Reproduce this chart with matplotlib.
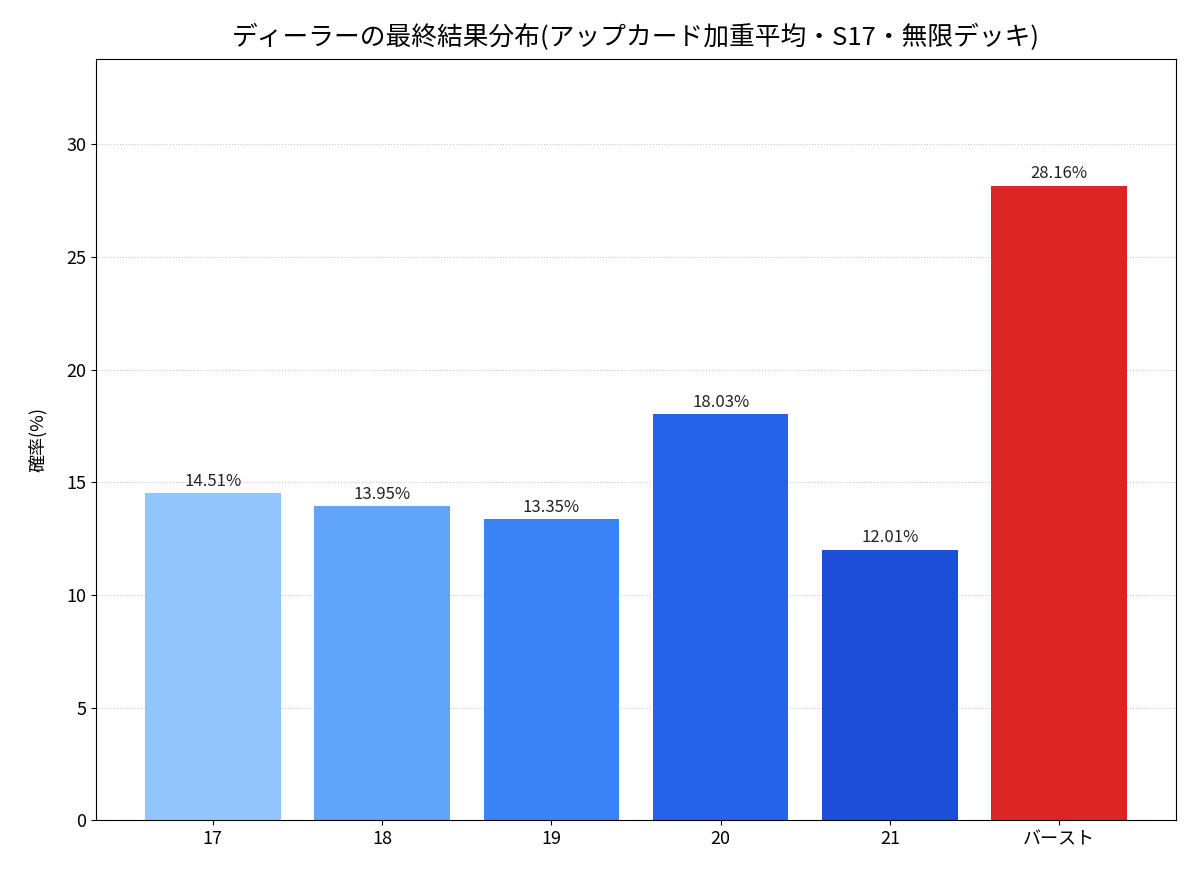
import matplotlib
matplotlib.use("Agg")
import matplotlib.pyplot as plt

plt.rcParams['font.family'] = ['Noto Sans CJK JP', 'DejaVu Sans']

# dealer final outcome distribution
categories = ['17', '18', '19', '20', '21', 'バースト']
probs = [14.51, 13.95, 13.35, 18.03, 12.01, 28.16]
colors = ['#93c5fd', '#60a5fa', '#3b82f6', '#2563eb', '#1d4ed8', '#dc2626']

fig, ax = plt.subplots(figsize=(12, 8.8), dpi=100)
bars = ax.bar(categories, probs, color=colors, width=0.8, zorder=2)

for b, v in zip(bars, probs):
    ax.text(b.get_x() + b.get_width() / 2, v + 0.15, f"{v:.2f}%",
            ha='center', va='bottom', fontsize=12, color='#222222')

ax.set_ylim(0, max(probs) * 1.2)
ax.set_ylabel("確率(%)", fontsize=13, labelpad=14)
ax.set_title("ディーラーの最終結果分布(アップカード加重平均・S17・無限デッキ)", fontsize=18.5, pad=10)
ax.tick_params(labelsize=13)
ax.grid(axis='y', linestyle=':', color='#c8c8c8', zorder=0)
ax.set_axisbelow(True)

fig.subplots_adjust(left=0.08, right=0.98, top=0.933, bottom=0.068)
fig.savefig("out.png", dpi=100)
